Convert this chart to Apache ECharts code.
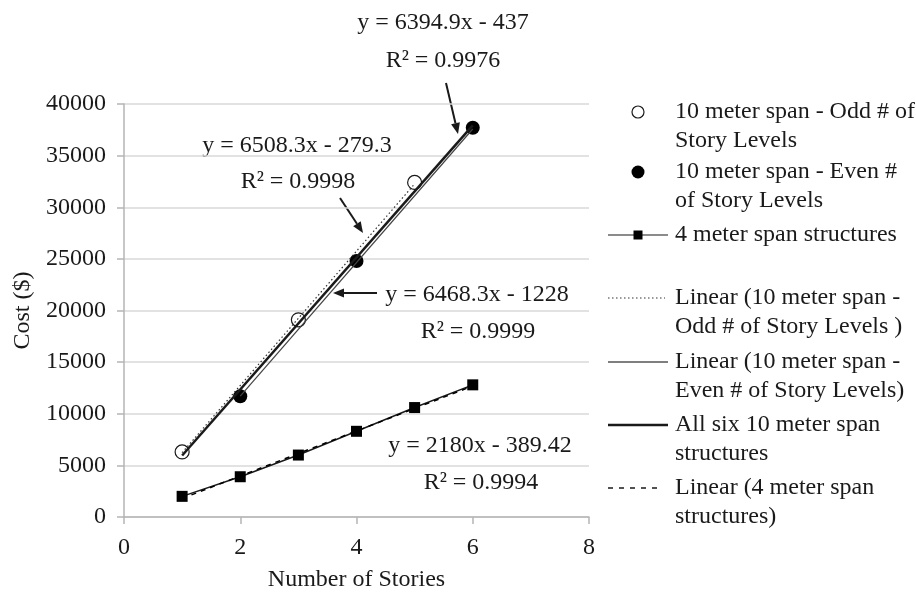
<!DOCTYPE html>
<html>
<head>
<meta charset="utf-8">
<script src="https://cdn.jsdelivr.net/npm/echarts@6/dist/echarts.min.js"></script>
<style>
  html, body { margin: 0; padding: 0; background: #fff; }
  #chart { width: 916px; height: 592px; }
</style>
</head>
<body>
<div id="chart"></div>
<script>
// measured points
const xOdd = [1, 3, 5];
const costOdd = [6300, 19100, 32400];
const xEven = [2, 4, 6];
const costEven = [11700, 24800, 37700];
const x4m = [1, 2, 3, 4, 5, 6];
const cost4m = [2000, 3900, 6000, 8300, 10600, 12800];

// trendline end points
const trendOddX = [1, 5];
const trendOddY = [6230, 32260];
const trendEvenX = [2, 6];
const trendEvenY = [11710, 37580];
const trendAllX = [1, 6];
const trendAllY = [5960, 37930];
const trend4mX = [1, 6];
const trend4mY = [1790, 12690];

const xTicks = [0, 2, 4, 6, 8];
const yTicks = [0, 5000, 10000, 15000, 20000, 25000, 30000, 35000, 40000];

const FONT = '"Liberation Serif", "DejaVu Serif", serif';
const FS = 24;
const INK = '#1a1a1a';

function zip(xs, ys) {
  return xs.map((x, i) => [x, ys[i]]);
}

// equation labels next to the lines
const eqLabels = [
  { text: 'y = 6394.9x - 437', x: 443, y: 23 },
  { text: 'R² = 0.9976', x: 443, y: 61 },
  { text: 'y = 6508.3x - 279.3', x: 297, y: 146 },
  { text: 'R² = 0.9998', x: 298, y: 182 },
  { text: 'y = 6468.3x - 1228', x: 477, y: 295 },
  { text: 'R² = 0.9999', x: 478, y: 332 },
  { text: 'y = 2180x - 389.42', x: 480, y: 446 },
  { text: 'R² = 0.9994', x: 481, y: 483 }
];

// arrows pointing from labels to lines: [x1, y1, x2(tip), y2(tip)]
const arrows = [
  [446, 83, 458, 134],
  [340, 198, 363, 233],
  [377, 293, 333, 293]
];

const legendItems = [
  { y: 112, lines: ['10 meter span - Odd # of', 'Story Levels'], icon: 'open' },
  { y: 172, lines: ['10 meter span - Even #', 'of Story Levels'], icon: 'filled' },
  { y: 235, lines: ['4 meter span structures'], icon: 'square' },
  { y: 298, lines: ['Linear (10 meter span -', 'Odd # of Story Levels )'], icon: 'dotted' },
  { y: 362, lines: ['Linear (10 meter span -', 'Even # of Story Levels)'], icon: 'thin' },
  { y: 425, lines: ['All six 10 meter span', 'structures'], icon: 'thick' },
  { y: 488, lines: ['Linear (4 meter span', 'structures)'], icon: 'dashed' }
];

function arrowGraphics(a) {
  const [x1, y1, x2, y2] = a;
  const ang = Math.atan2(y2 - y1, x2 - x1);
  const len = 11, half = 4.5;
  const bx = x2 - len * Math.cos(ang), by = y2 - len * Math.sin(ang);
  const px = -Math.sin(ang) * half, py = Math.cos(ang) * half;
  return [
    { type: 'line', shape: { x1, y1, x2: bx, y2: by }, style: { stroke: INK, lineWidth: 2 } },
    { type: 'polygon', shape: { points: [[x2, y2], [bx + px, by + py], [bx - px, by - py]] }, style: { fill: INK } }
  ];
}

function legendGraphics(item) {
  const out = [];
  const cx = 638, x1 = 608, x2 = 668, y = item.y;
  if (item.icon === 'open') {
    out.push({ type: 'circle', shape: { cx, cy: y, r: 6 }, style: { fill: '#fff', stroke: INK, lineWidth: 1.2 } });
  } else if (item.icon === 'filled') {
    out.push({ type: 'circle', shape: { cx, cy: y, r: 6.5 }, style: { fill: '#000' } });
  } else if (item.icon === 'square') {
    out.push({ type: 'line', shape: { x1, y1: y, x2, y2: y }, style: { stroke: INK, lineWidth: 1.2 } });
    out.push({ type: 'rect', shape: { x: cx - 4.5, y: y - 4.5, width: 9, height: 9 }, style: { fill: '#000' } });
  } else if (item.icon === 'dotted') {
    out.push({ type: 'line', shape: { x1, y1: y, x2: 665, y2: y }, style: { stroke: '#333', lineWidth: 1, lineDash: [1.5, 2.5] } });
  } else if (item.icon === 'thin') {
    out.push({ type: 'line', shape: { x1, y1: y, x2, y2: y }, style: { stroke: '#555', lineWidth: 1.5 } });
  } else if (item.icon === 'thick') {
    out.push({ type: 'line', shape: { x1, y1: y, x2, y2: y }, style: { stroke: INK, lineWidth: 2.5 } });
  } else if (item.icon === 'dashed') {
    out.push({ type: 'line', shape: { x1, y1: y, x2: 662, y2: y }, style: { stroke: INK, lineWidth: 1.5, lineDash: [5, 6] } });
  }
  item.lines.forEach((t, i) => {
    out.push({
      type: 'text',
      style: { text: t, x: 675, y: y + i * 28.5, font: FS + 'px ' + FONT, fill: INK, align: 'left', verticalAlign: 'middle' }
    });
  });
  return out;
}

const graphics = [];
eqLabels.forEach(l => {
  graphics.push({
    type: 'text',
    style: { text: l.text, x: l.x, y: l.y, font: FS + 'px ' + FONT, fill: INK, align: 'center', verticalAlign: 'middle' }
  });
});
arrows.forEach(a => graphics.push(...arrowGraphics(a)));
legendItems.forEach(it => graphics.push(...legendGraphics(it)));

const chart = echarts.init(document.getElementById('chart'));
chart.setOption({
  backgroundColor: '#fff',
  animation: false,
  textStyle: { fontFamily: FONT },
  // v6 shrinks the grid to keep labels inside by default; turn that off
  grid: { left: 124, top: 104, width: 465, height: 413, outerBoundsMode: 'none', containLabel: false },
  xAxis: {
    type: 'value',
    min: xTicks[0],
    max: xTicks[xTicks.length - 1],
    interval: 2,
    name: 'Number of Stories',
    nameLocation: 'middle',
    nameGap: 51,
    nameTextStyle: { fontSize: FS, color: INK, fontFamily: FONT },
    axisLine: { lineStyle: { color: '#b5b5b5', width: 1.5 } },
    axisTick: { show: true, length: 7, lineStyle: { color: '#b5b5b5', width: 1.5 } },
    axisLabel: { fontSize: FS, color: INK, margin: 19, fontFamily: FONT },
    splitLine: { show: false }
  },
  yAxis: {
    type: 'value',
    min: yTicks[0],
    max: yTicks[yTicks.length - 1],
    interval: 5000,
    name: 'Cost ($)',
    nameLocation: 'middle',
    nameGap: 88,
    nameTextStyle: { fontSize: FS, color: INK, fontFamily: FONT },
    axisLine: { show: true, lineStyle: { color: '#b5b5b5', width: 1.5 } },
    axisTick: { show: true, length: 7, lineStyle: { color: '#b5b5b5', width: 1.5 } },
    axisLabel: { fontSize: FS, color: INK, margin: 18, fontFamily: FONT, formatter: v => String(v) },
    splitLine: { show: true, lineStyle: { color: '#d9d9d9', width: 1.5 } }
  },
  series: [
    {
      name: '4 meter span structures',
      type: 'line',
      data: zip(x4m, cost4m),
      symbol: 'rect',
      symbolSize: 11,
      itemStyle: { color: '#000', opacity: 1 },
      lineStyle: { color: INK, width: 1.5 },
      z: 2
    },
    {
      name: '10 meter span - Odd # of Story Levels',
      type: 'scatter',
      data: zip(xOdd, costOdd),
      symbol: 'circle',
      symbolSize: 14,
      itemStyle: { color: '#fff', borderColor: INK, borderWidth: 1.2, opacity: 1 },
      z: 2
    },
    {
      name: '10 meter span - Even # of Story Levels',
      type: 'scatter',
      data: zip(xEven, costEven),
      symbol: 'circle',
      symbolSize: 14,
      itemStyle: { color: '#000', opacity: 1 },
      z: 2
    },
    {
      name: 'Linear (10 meter span - Odd # of Story Levels )',
      type: 'line',
      data: zip(trendOddX, trendOddY),
      showSymbol: false,
      symbol: 'none',
      lineStyle: { color: '#333', width: 1.2, type: [1.5, 2.5] },
      z: 3
    },
    {
      name: 'Linear (10 meter span - Even # of Story Levels)',
      type: 'line',
      data: zip(trendEvenX, trendEvenY),
      showSymbol: false,
      symbol: 'none',
      lineStyle: { color: '#444', width: 1.2 },
      z: 3
    },
    {
      name: 'All six 10 meter span structures',
      type: 'line',
      data: zip(trendAllX, trendAllY),
      showSymbol: false,
      symbol: 'none',
      lineStyle: { color: INK, width: 2.5 },
      z: 3
    },
    {
      name: 'Linear (4 meter span structures)',
      type: 'line',
      data: zip(trend4mX, trend4mY),
      showSymbol: false,
      symbol: 'none',
      lineStyle: { color: '#000', width: 1.5, type: [5, 5] },
      z: 3
    }
  ],
  graphic: graphics
});
</script>
</body>
</html>
